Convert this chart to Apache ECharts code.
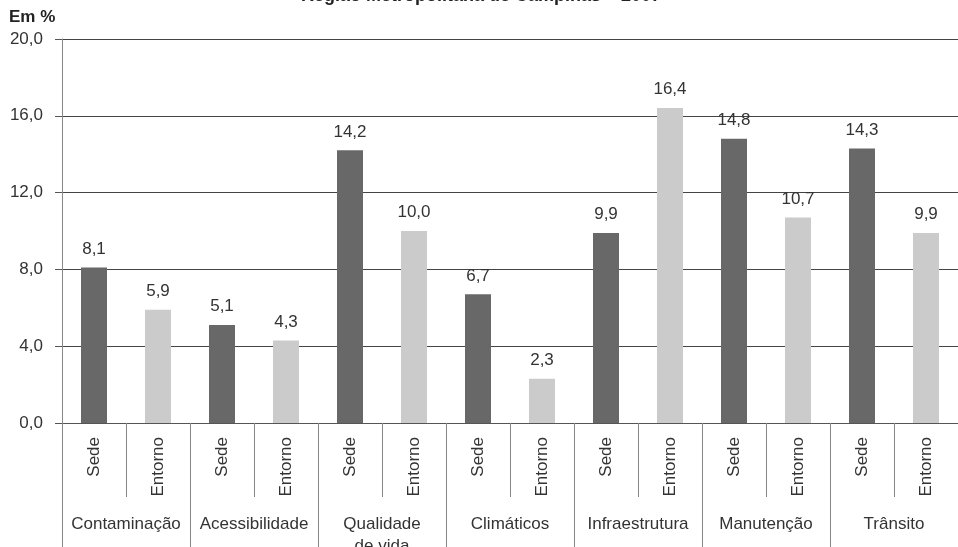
<!DOCTYPE html>
<html>
<head>
<meta charset="utf-8">
<script src="https://cdn.jsdelivr.net/npm/echarts@6/dist/echarts.min.js"></script>
<style>
  html, body { margin: 0; padding: 0; background: #fff; }
  #chart { width: 958px; height: 547px; }
</style>
</head>
<body>
<div id="chart"></div>
<script>
// Groups and their two sub-categories
const groups = ['Contaminação', 'Acessibilidade', 'Qualidade\nde vida', 'Climáticos', 'Infraestrutura', 'Manutenção', 'Trânsito'];
const subLabels = ['Sede', 'Entorno'];
const sede = [8.1, 5.1, 14.2, 6.7, 9.9, 14.8, 14.3];
const entorno = [5.9, 4.3, 10.0, 2.3, 16.4, 10.7, 9.9];
const yTicks = [0, 4, 8, 12, 16, 20];

const fmt = v => v.toFixed(1).replace('.', ',');

// Interleave the two sub-categories along one category axis
const cats = [];
const values = [];
groups.forEach((g, i) => {
  cats.push(subLabels[0]); values.push({ value: sede[i], itemStyle: { color: '#686868' } });
  cats.push(subLabels[1]); values.push({ value: entorno[i], itemStyle: { color: '#cbcbcb' } });
});

const font = '"Liberation Sans", Arial, Helvetica, sans-serif';
const chart = echarts.init(document.getElementById('chart'));
chart.setOption({
  animation: false,
  textStyle: { fontFamily: font },
  grid: { left: 62, right: 0, top: 39, bottom: 124, outerBoundsMode: 'none', containLabel: false },
  graphic: [
    { type: 'text', left: 301, top: -13,
      style: { text: 'Região Metropolitana de Campinas – 2007', font: 'bold 18px ' + font, fill: '#222' } },
    { type: 'text', left: 9, top: 9,
      style: { text: 'Em %', font: 'bold 17px ' + font, fill: '#222' } }
  ],
  xAxis: [
    {
      type: 'category', data: cats, gridIndex: 0,
      axisLine: { show: true, lineStyle: { color: '#555', width: 1 } },
      axisTick: { show: true, interval: 0, length: 74, lineStyle: { color: '#888' } },
      axisLabel: { interval: 0, rotate: 90, margin: 14, fontSize: 17, color: '#333', fontFamily: font }
    },
    {
      type: 'category', data: groups, gridIndex: 0, position: 'bottom', offset: 74,
      axisLine: { show: false },
      axisTick: { show: true, interval: 0, length: 52, lineStyle: { color: '#888' } },
      axisLabel: { interval: 0, margin: 16, fontSize: 17, lineHeight: 22, color: '#333', fontFamily: font }
    }
  ],
  yAxis: {
    type: 'value', min: yTicks[0], max: yTicks[yTicks.length - 1], interval: 4,
    axisLine: { show: true, lineStyle: { color: '#888' } },
    axisTick: { show: true, length: 7, lineStyle: { color: '#555' } },
    axisLabel: { margin: 19, fontSize: 17, color: '#333', fontFamily: font, formatter: v => fmt(v) },
    splitLine: { show: true, lineStyle: { color: '#444', width: 1 } }
  },
  series: [{
    type: 'bar', xAxisIndex: 0, data: values, barWidth: 26,
    label: { show: true, position: 'top', distance: 10, fontSize: 17, color: '#333',
             fontFamily: font, formatter: p => fmt(p.value) }
  }]
});
</script>
</body>
</html>
